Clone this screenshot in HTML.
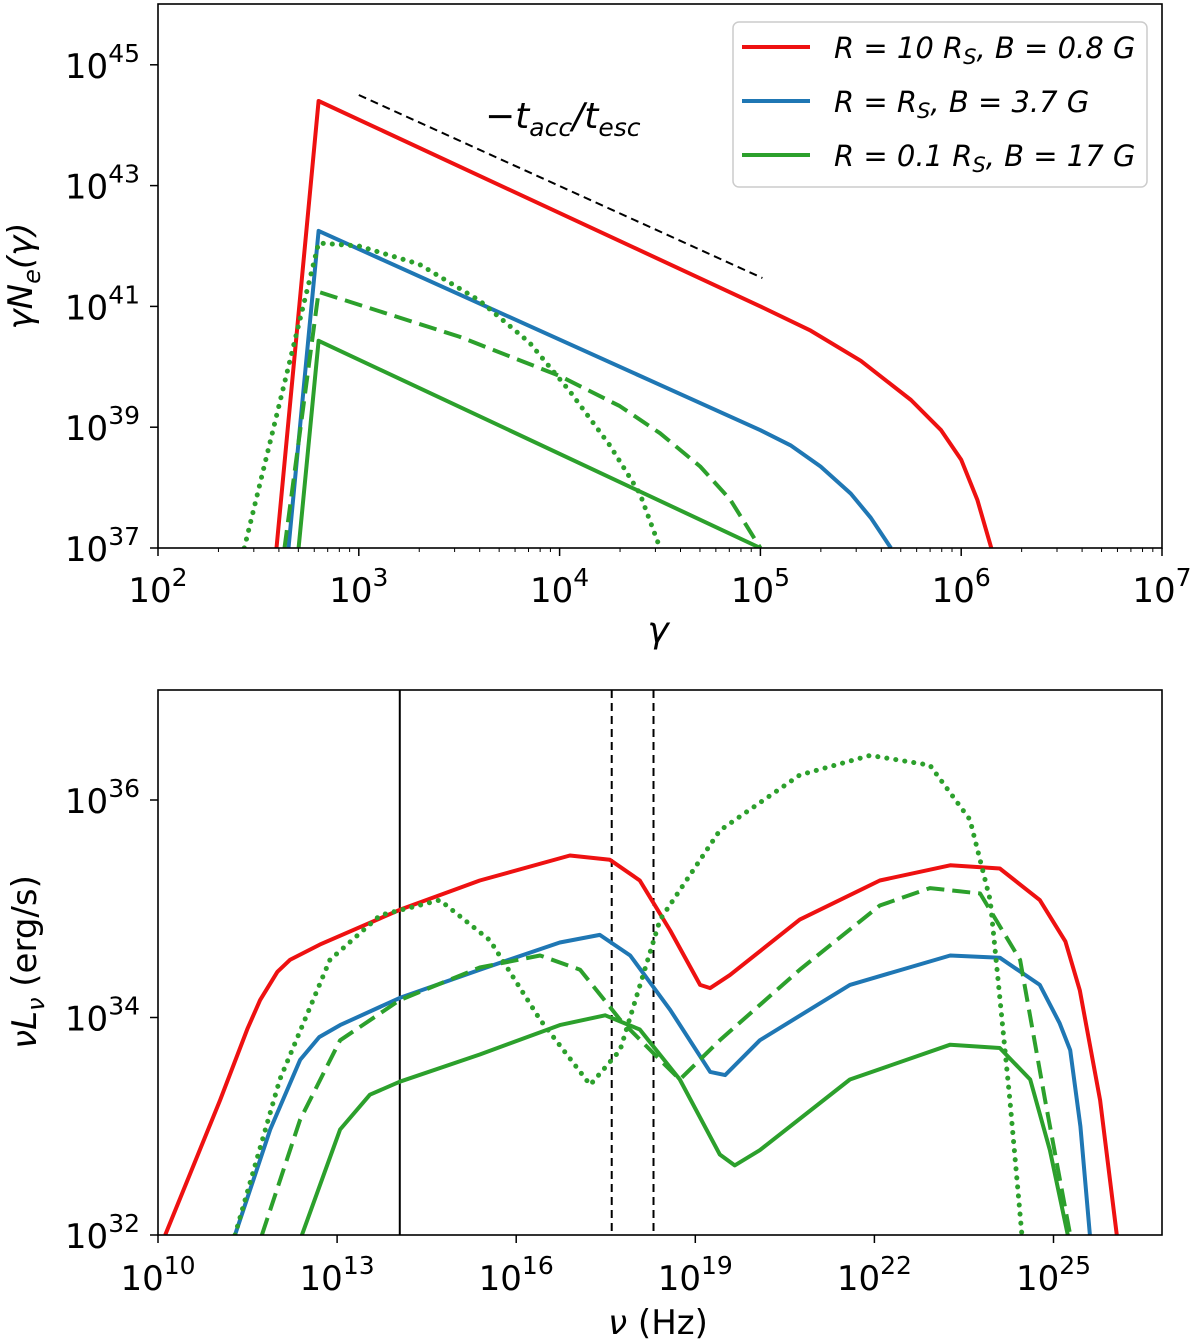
<!DOCTYPE html>
<html><head><meta charset="utf-8"><style>
html,body{margin:0;padding:0;background:#fff;}
svg{display:block;font-family:"DejaVu Sans","Liberation Sans",sans-serif;}
</style></head><body>
<svg id="fig" width="1200" height="1344" viewBox="0 0 1200 1344"></svg>
<script>
// ---------- Top panel data (log10 gamma, log10 gamma*Ne) ----------
const topXTicks=[2,3,4,5,6,7];
const topYTicks=[37,39,41,43,45];
const redTopX=[2.59,2.80,5.0,5.25,5.5,5.75,5.9,6.0,6.08,6.15];
const redTopY=[37,44.4,41.0,40.6,40.1,39.45,38.95,38.46,37.8,37];
const blueTopX=[2.65,2.80,5.0,5.15,5.3,5.45,5.55,5.65];
const blueTopY=[37,42.25,38.95,38.7,38.35,37.9,37.5,37];
const greenSolidTopX=[2.70,2.80,5.0];
const greenSolidTopY=[37,40.43,37];
const greenDashTopX=[2.63,2.80,3.5,4.0,4.3,4.5,4.7,4.85,5.0];
const greenDashTopY=[37,41.24,40.5,39.85,39.35,38.9,38.35,37.8,37];
const greenDotTopX=[2.43,2.80,3.0,3.3,3.6,3.85,4.05,4.25,4.4,4.5];
const greenDotTopY=[37,42.05,42.0,41.7,41.1,40.4,39.6,38.7,37.9,37];
const slopeX=[3.0,5.01];
const slopeY=[44.5,41.47];
// ---------- Bottom panel data (log10 nu, log10 nuLnu) ----------
const botXTicks=[10,13,16,19,22,25];
const botYTicks=[32,34,36];
const vlineSolid=[14.05];
const vlineDashed=[17.6,18.3];
const redBotX=[10.12,11.04,11.5,11.71,12.0,12.21,12.71,14.05,15.39,16.9,17.57,18.07,18.58,19.08,19.25,19.58,20.75,22.09,23.27,24.1,24.77,25.2,25.44,25.78,26.06];
const redBotY=[32,33.24,33.9,34.16,34.42,34.53,34.67,34.99,35.26,35.49,35.45,35.26,34.80,34.30,34.27,34.39,34.90,35.26,35.40,35.37,35.08,34.7,34.25,33.24,32];
const blueBotX=[11.29,11.88,12.38,12.7,13.05,14.05,15.39,16.73,17.4,17.91,18.58,19.25,19.5,20.08,21.59,23.27,24.1,24.77,25.1,25.28,25.45,25.61];
const blueBotY=[32,32.97,33.61,33.82,33.93,34.18,34.44,34.69,34.76,34.57,34.07,33.5,33.47,33.79,34.30,34.57,34.55,34.30,33.95,33.70,33.0,32];
const gsBotX=[12.41,13.05,13.55,14.05,15.39,16.73,17.49,18.07,18.74,19.41,19.66,20.08,21.59,23.27,24.1,24.61,24.94,25.24];
const gsBotY=[32,32.97,33.29,33.41,33.66,33.93,34.02,33.89,33.43,32.74,32.64,32.78,33.43,33.75,33.72,33.43,32.78,32];
const gdBotX=[11.74,12.38,13.05,14.05,15.39,16.4,17.07,17.74,18.41,18.74,19.41,20.75,22.09,22.93,23.77,24.44,24.86,25.28];
const gdBotY=[32,33.06,33.79,34.16,34.46,34.57,34.44,33.98,33.61,33.43,33.79,34.44,35.03,35.19,35.14,34.53,33.24,32];
const gpBotX=[11.29,12.04,12.88,13.72,14.72,15.56,16.4,17.24,17.74,18.41,19.41,20.75,21.93,22.93,23.6,23.94,24.27,24.47];
const gpBotY=[32,33.43,34.53,34.94,35.08,34.71,33.98,33.38,33.70,34.90,35.72,36.23,36.41,36.32,35.82,35.08,33.24,32];

const NS="http://www.w3.org/2000/svg";
const svg=document.getElementById('fig');
function mk(tag,attrs,parent){const e=document.createElementNS(NS,tag);for(const k in attrs)e.setAttribute(k,attrs[k]);(parent||svg).appendChild(e);return e;}
const BLUE="#1f77b4", GREEN="#2ca02c", RED2="#ee1111";

const L=158,R=1162;
const tx=v=>L+(v-2)*(R-L)/5;
const ty=v=>548-(v-37)*60.4;
const bx=v=>L+(v-10)*59.7;
const by=v=>1235-(v-32)*108.75;

function clipDef(id,x,y,w,h){const d=mk('defs',{});const c=mk('clipPath',{id:id},d);mk('rect',{x:x,y:y,width:w,height:h},c);}
clipDef('ctop',L,4,R-L,544);
clipDef('cbot',L,690,R-L,545);

function series(xs,ys,fx,fy,color,dash,clip,name){
  let d='';for(let i=0;i<xs.length;i++)d+=(i?'L':'M')+fx(xs[i]).toFixed(1)+' '+fy(ys[i]).toFixed(1);
  const a={d:d,fill:'none',stroke:color,'stroke-width':4,'clip-path':'url(#'+clip+')','stroke-linejoin':'round'};
  if(dash)a['stroke-dasharray']=dash;
  if(dash==='dot'){a['stroke-dasharray']='0.1 9';a['stroke-linecap']='round';a['stroke-width']=5;}
  const p=mk('path',a);
  
  
}
function tickLabel(x,y,base,exp,name,anchor){
  const t=mk('text',{x:x,y:y,'font-size':34,'text-anchor':anchor||'middle',fill:'#000'});
  
  
  const s1=mk('tspan',{},t);s1.textContent=base;
  const s2=mk('tspan',{dy:-16,'font-size':25},t);s2.textContent=exp;
}
function minorTicks(decStart,decEnd,f,pos){
  for(let d=decStart;d<decEnd;d++)for(let m=2;m<10;m++){const p=f(d+Math.log10(m));
    mk('line',{x1:p,x2:p,y1:pos,y2:pos+4,stroke:'#000','stroke-width':1});}
}

// ---------- TOP PANEL ----------
series(redTopX,redTopY,tx,ty,RED2,null,'ctop','red-electron-curve');
series(blueTopX,blueTopY,tx,ty,BLUE,null,'ctop','blue-electron-curve');
series(greenSolidTopX,greenSolidTopY,tx,ty,GREEN,null,'ctop','green-solid-electron-curve');
series(greenDashTopX,greenDashTopY,tx,ty,GREEN,'18 8','ctop','green-dashed-electron-curve');
series(greenDotTopX,greenDotTopY,tx,ty,GREEN,'dot','ctop','green-dotted-electron-curve');
{const p=mk('line',{x1:tx(slopeX[0]),y1:ty(slopeY[0]),x2:tx(slopeX[1]),y2:ty(slopeY[1]),stroke:'#000','stroke-width':2,'stroke-dasharray':'8 5'});
}
{const t=mk('text',{x:485,y:128,'font-size':36,'font-style':'italic'});
t.innerHTML='−<tspan>t</tspan><tspan font-size="25" dy="8">acc</tspan><tspan dy="-8">/t</tspan><tspan font-size="25" dy="8">esc</tspan>';}
{const r=mk('rect',{x:L,y:4,width:R-L,height:544,fill:'none',stroke:'#000','stroke-width':1.6});}
topXTicks.forEach(v=>{mk('line',{x1:tx(v),x2:tx(v),y1:548,y2:556,stroke:'#000','stroke-width':1.5});tickLabel(tx(v),602,'10',v,'top-x-tick-label');});
topYTicks.forEach(v=>{mk('line',{x1:L,x2:L-8,y1:ty(v),y2:ty(v),stroke:'#000','stroke-width':1.5});tickLabel(140,ty(v)+13,'10',v,'top-y-tick-label','end');});
minorTicks(2,7,tx,548);
{const t=mk('text',{x:658,y:642,'font-size':36,'font-style':'italic','text-anchor':'middle'});t.textContent='γ';}
{const t=mk('text',{x:0,y:0,'font-size':34,'font-style':'italic','text-anchor':'middle',transform:'translate(32,276) rotate(-90)'});
t.innerHTML='γN<tspan font-size="24" dy="8">e</tspan><tspan dy="-8">(γ)</tspan>';}
{const g=mk('g',{});
mk('rect',{x:733,y:22,width:414,height:165,rx:6,fill:'#fff',stroke:'#ccc','stroke-width':1.5},g);
const ents=[[RED2,'R = 10 R','S',', B = 0.8 G',47],[BLUE,'R = R','S',', B = 3.7 G',101],[GREEN,'R = 0.1 R','S',', B = 17 G',155]];
ents.forEach(e=>{const l=mk('line',{x1:742,x2:810,y1:e[4],y2:e[4],stroke:e[0],'stroke-width':4},g);

const t=mk('text',{x:834,y:e[4]+11,'font-size':29,'font-style':'italic'},g);

t.innerHTML=e[1]+'<tspan font-size="21" dy="6">'+e[2]+'</tspan><tspan dy="-6">'+e[3]+'</tspan>';});}

// ---------- BOTTOM PANEL ----------
vlineSolid.forEach(v=>{const l=mk('line',{x1:bx(v),x2:bx(v),y1:690,y2:1235,stroke:'#000','stroke-width':2});});
vlineDashed.forEach(v=>{const l=mk('line',{x1:bx(v),x2:bx(v),y1:690,y2:1235,stroke:'#000','stroke-width':2,'stroke-dasharray':'8 5'});});
series(redBotX,redBotY,bx,by,RED2,null,'cbot','red-sed-curve');
series(blueBotX,blueBotY,bx,by,BLUE,null,'cbot','blue-sed-curve');
series(gsBotX,gsBotY,bx,by,GREEN,null,'cbot','green-solid-sed-curve');
series(gdBotX,gdBotY,bx,by,GREEN,'18 8','cbot','green-dashed-sed-curve');
series(gpBotX,gpBotY,bx,by,GREEN,'dot','cbot','green-dotted-sed-curve');
{const r=mk('rect',{x:L,y:690,width:R-L,height:545,fill:'none',stroke:'#000','stroke-width':1.6});}
botXTicks.forEach(v=>{mk('line',{x1:bx(v),x2:bx(v),y1:1235,y2:1243,stroke:'#000','stroke-width':1.5});tickLabel(bx(v),1290,'10',v,'bottom-x-tick-label');});
botYTicks.forEach(v=>{mk('line',{x1:L,x2:L-8,y1:by(v),y2:by(v),stroke:'#000','stroke-width':1.5});tickLabel(140,by(v)+13,'10',v,'bottom-y-tick-label','end');});
{const t=mk('text',{x:658,y:1334,'font-size':34,'text-anchor':'middle'});t.innerHTML='<tspan font-style="italic">ν</tspan> (Hz)';}
{const t=mk('text',{x:0,y:0,'font-size':34,'text-anchor':'middle',transform:'translate(36,962) rotate(-90)'});
t.innerHTML='<tspan font-style="italic">νL</tspan><tspan font-size="24" dy="8" font-style="italic">ν</tspan><tspan dy="-8"> (erg/s)</tspan>';}
</script>
</body></html>
